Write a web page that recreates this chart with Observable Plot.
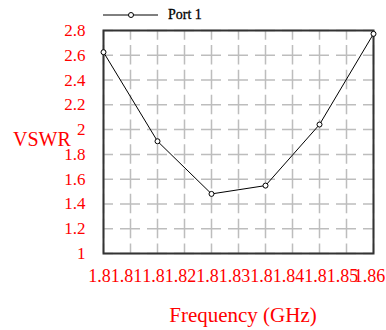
<!DOCTYPE html>
<html>
<head>
<meta charset="utf-8">
<script src="https://cdn.jsdelivr.net/npm/d3@7"></script>
<script src="https://cdn.jsdelivr.net/npm/@observablehq/plot@0.6"></script>
<style>
  html, body { margin: 0; padding: 0; background: #fff; }
  #wrap { position: relative; width: 386px; height: 330px; font-family: "Liberation Serif", "DejaVu Serif", serif; }
  #wrap svg { display: block; }
  .lbl { position: absolute; line-height: 1; white-space: nowrap; color: #ff0000; }
  #legend { position: absolute; left: 100px; top: 5px; height: 20px; display: flex; align-items: center; }
  #legend span { font-size: 14px; color: #000; margin-left: 8px; -webkit-text-stroke: 0.3px #000; }
</style>
</head>
<body>
<div id="wrap"></div>
<script>
// Data
const freq = [1.8, 1.812, 1.824, 1.836, 1.848, 1.86];
const vswr = [2.625, 1.906, 1.481, 1.548, 2.041, 2.773];
const seriesName = "Port 1";

const xTicks = [1.8, 1.806, 1.812, 1.818, 1.824, 1.83, 1.836, 1.842, 1.848, 1.854, 1.86];
const xTickLabels = ["1.8", "1.81", "1.8", "1.82", "1.8", "1.83", "1.8", "1.84", "1.8", "1.85", "1.86"];
const yTicks = [1, 1.2, 1.4, 1.6, 1.8, 2, 2.2, 2.4, 2.6, 2.8];
const yTickLabels = ["1", "1.2", "1.4", "1.6", "1.8", "2", "2.2", "2.4", "2.6", "2.8"];
const xLabel = "Frequency (GHz)";
const yLabel = "VSWR";

const data = freq.map((f, i) => ({f, v: vswr[i]}));
const xLab = new Map(xTicks.map((t, i) => [t, xTickLabels[i]]));
const yLab = new Map(yTicks.map((t, i) => [t, yTickLabels[i]]));

const chart = Plot.plot({
  width: 386,
  height: 330,
  marginLeft: 103,
  marginRight: 13,
  marginTop: 30,
  marginBottom: 77,
  style: {background: "white", fontFamily: "'Liberation Serif', serif"},
  x: {domain: [1.8, 1.86]},
  y: {domain: [1, 2.8]},
  marks: [
    Plot.gridX(xTicks, {stroke: "#bdbdbd", strokeOpacity: 1, strokeWidth: 1.5, strokeDasharray: "19.5,5.3", strokeDashoffset: 9.75}),
    Plot.gridY(yTicks, {stroke: "#bdbdbd", strokeOpacity: 1, strokeWidth: 1.5, strokeDasharray: "20,7", strokeDashoffset: 10}),
    Plot.frame({stroke: "#333", strokeWidth: 2}),
    Plot.axisX(xTicks, {tickSize: 0, tickPadding: 16, dx: -4, tickFormat: d => xLab.get(d), fill: "#ff0000", fontSize: 18, label: null}),
    Plot.axisY(yTicks, {tickSize: 0, tickPadding: 18, tickFormat: d => yLab.get(d), fill: "#ff0000", fontSize: 17, label: null}),
    Plot.line(data, {x: "f", y: "v", stroke: "#000", strokeWidth: 1}),
    Plot.dot(data, {x: "f", y: "v", r: 2.5, fill: "white", stroke: "#000", strokeWidth: 1})
  ]
});

const wrap = document.getElementById("wrap");
wrap.appendChild(chart);

const yl = document.createElement("div");
yl.className = "lbl";
yl.style.cssText = "left:13px;top:129px;font-size:20px;";
yl.textContent = yLabel;
wrap.appendChild(yl);

const xl = document.createElement("div");
xl.className = "lbl";
xl.style.cssText = "left:243px;top:305px;font-size:21px;transform:translateX(-50%);";
xl.textContent = xLabel;
wrap.appendChild(xl);

const lg = document.createElement("div");
lg.id = "legend";
lg.innerHTML = '<svg width="60" height="20"><line x1="3" y1="10" x2="58" y2="10" stroke="#000" stroke-width="1"/><circle cx="31" cy="10" r="2.5" fill="#fff" stroke="#000"/></svg><span></span>';
lg.querySelector("span").textContent = seriesName;
wrap.appendChild(lg);
</script>
</body>
</html>
